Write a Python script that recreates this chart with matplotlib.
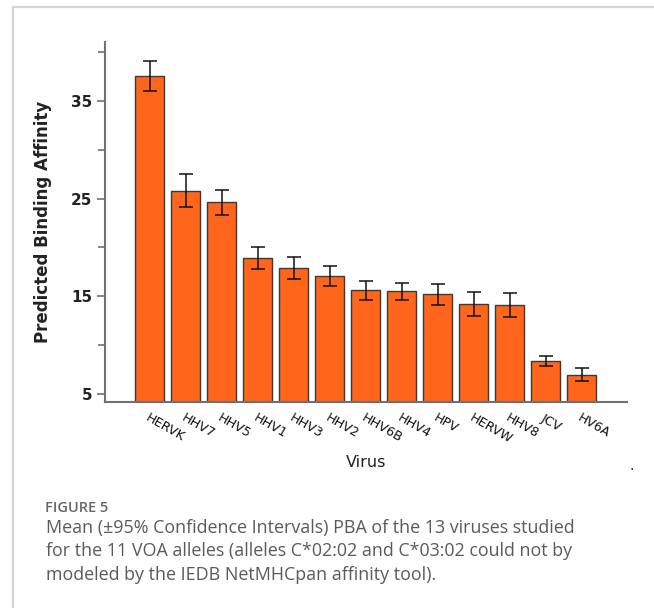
import matplotlib
matplotlib.use("Agg")
import matplotlib.pyplot as plt
from matplotlib.lines import Line2D

# Datos
virus = ["HERVK", "HHV7", "HHV5", "HHV1", "HHV3", "HHV2", "HHV6B",
         "HHV4", "HPV", "HERVW", "HHV8", "JCV", "HV6A"]
pba = [37.5, 25.8, 24.6, 18.9, 17.9, 17.1, 15.6, 15.5, 15.2, 14.2, 14.1, 8.4, 7.0]
ic95 = [1.55, 1.7, 1.3, 1.1, 1.15, 1.05, 1.0, 0.85, 1.1, 1.25, 1.2, 0.5, 0.7]
yticks = [5, 15, 25, 35]
yticks_menores = [10, 20, 30, 40]

caption_title = "FIGURE 5"
caption_lines = [
    "Mean (\u00b195% Confidence Intervals) PBA of the 13 viruses studied",
    "for the 11 VOA alleles (alleles C*02:02 and C*03:02 could not by",
    "modeled by the IEDB NetMHCpan affinity tool).",
]

W, H = 654, 608
fig = plt.figure(figsize=(W / 100, H / 100), dpi=100)

# marco gris de la pagina
fig.add_artist(Line2D([13 / W, 13 / W], [0, 1 - 7 / H], color="#d4d4d4", lw=1.6))
fig.add_artist(Line2D([13 / W, 1], [1 - 7 / H, 1 - 7 / H], color="#d4d4d4", lw=1.6))

ax = fig.add_axes([105 / W, 1 - 402 / H, (627 - 105) / W, (402 - 42) / H])
x = range(len(virus))
ax.bar(x, pba, width=0.8, color="#ff661c", edgecolor="#3a3a3a", linewidth=1.0,
       yerr=ic95, capsize=5, error_kw=dict(ecolor="#111111", elinewidth=1.1, capthick=1.1))

ax.set_xlim(-1.24, 13.26)
ax.set_ylim(4.2, 41)
ax.set_yticks(yticks)
ax.set_yticks(yticks_menores, minor=True)
ax.set_yticklabels([str(v) for v in yticks], fontsize=11, fontweight="bold", color="#222222")
ax.tick_params(axis="y", which="both", direction="out", color="#707070", width=1.2)
ax.tick_params(axis="y", which="major", length=6, pad=3)
ax.tick_params(axis="y", which="minor", length=5)
ax.set_xticks(list(x))
ax.set_xticklabels(virus, rotation=-30, ha="left", rotation_mode="anchor",
                   fontsize=9.2, color="#111111")
ax.tick_params(axis="x", length=0, pad=7)

for s in ["top", "right"]:
    ax.spines[s].set_visible(False)
for s in ["left", "bottom"]:
    ax.spines[s].set_color("#707070")
    ax.spines[s].set_linewidth(1.5)

ax.set_ylabel("Predicted Binding Affinity", fontsize=12, fontweight="bold", color="#222222", labelpad=14)
ax.set_xlabel("Virus", fontsize=11.5, fontweight="medium", color="#222222", labelpad=6)

fig.text(632 / W, 1 - 466 / H, ".", fontsize=10, ha="center", va="center", color="#111111")

fig.text(45 / W, 1 - 508 / H, caption_title, fontsize=10.5, family="Open Sans",
         color="#666666", va="center", fontweight="semibold")
for i, linea in enumerate(caption_lines):
    fig.text(46 / W, 1 - (533 + 23.5 * i) / H, linea, fontsize=12.9, family="Open Sans",
             color="#5a5a5a", va="baseline")

fig.savefig("out.png", dpi=100)
